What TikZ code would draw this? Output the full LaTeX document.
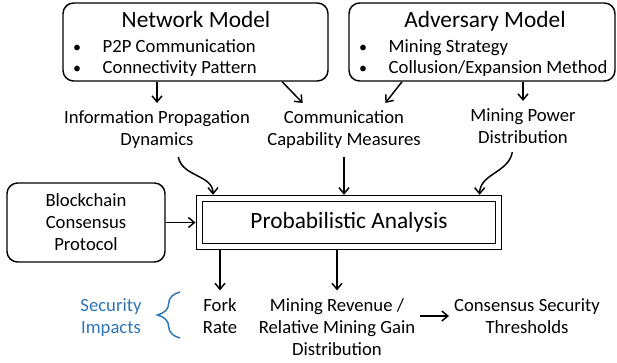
\documentclass[tikz,border=0pt]{standalone}
\usepackage{fontspec}
\setmainfont{Carlito}
\usetikzlibrary{arrows.meta,decorations.pathreplacing}
\definecolor{impactblue}{RGB}{46,117,182}

\tikzset{
  >={Straight Barb[length=4.5pt,width=7.5pt]},
  every path/.style={line width=1.1pt},
  modelbox/.style={draw, rounded corners=8pt, inner sep=0pt},
  txt/.style={align=center, inner ysep=5.5pt, font=\fontsize{14}{16.5}\selectfont},
  item/.style={anchor=base west, inner sep=0pt, font=\fontsize{14}{16.5}\selectfont},
  dot/.style={anchor=base, inner sep=0pt, font=\fontsize{12}{16.5}\selectfont},
  heading/.style={anchor=base, inner sep=0pt, font=\fontsize{17.5}{21}\selectfont},
}

\begin{document}
\begin{tikzpicture}[x=0.75pt, y=0.75pt]
        \useasboundingbox (0,0) rectangle (617,-362);

        \node[modelbox, minimum width=198.75pt, minimum height=58.5pt] at (195.5,-42) (net) {};
        \node[modelbox, minimum width=199.5pt, minimum height=58.5pt] at (482,-42) (adv) {};
        \node[heading] at (196,-27) (nettitle) {Network Model};
        \node[heading] at (485,-27) (advtitle) {Adversary Model};
        \node[dot] at (77,-52) (d1) {•};
        \node[dot] at (77,-73) (d2) {•};
        \node[dot] at (363,-52) (d3) {•};
        \node[dot] at (363,-73) (d4) {•};
        \node[item] at (102,-52) (p2p) {P2P Communication};
        \node[item] at (102,-73) (conn) {Connectivity Pattern};
        \node[item] at (388,-52) (strat) {Mining Strategy};
        \node[item] at (388,-73) (coll) {Collusion/Expansion Method};

        \node[txt] at (157,-130) (ipd) {Information Propagation\\Dynamics};
        \node[txt] at (344,-130) (ccm) {Communication\\Capability Measures};
        \node[txt] at (523,-126.5) (mpd) {Mining Power\\Distribution};

        \node[modelbox, txt, inner sep=0pt, minimum width=118.5pt, minimum height=59.25pt] at (86,-222.5) (bcp) {Blockchain\\Consensus\\Protocol};
        \node[draw, double, double distance=3.4pt, outer sep=2.8pt, minimum width=224.6pt, minimum height=36pt,
              font=\fontsize{17.5}{21}\selectfont] at (349,-222.5) (pa) {Probabilistic Analysis};

        \node[txt, text=impactblue] at (111,-318) (si) {Security\\Impacts};
        \node[txt] at (220,-316) (fr) {Fork\\Rate};
        \node[txt] at (337,-327) (mr) {Mining Revenue /\\Relative Mining Gain\\Distribution};
        \node[txt] at (527,-316) (cst) {Consensus Security\\Thresholds};
        \coordinate (bt) at (180,-292);
        \coordinate (bb) at (180,-338);

        \draw[->] (net.south -| ipd.north) -- (ipd.north);
        \draw[->] ([xshift=65pt]net.south) -- ([xshift=-31pt]ccm.north);
        \draw[->] ([xshift=-60pt]adv.south) -- ([xshift=31pt]ccm.north);
        \draw[->] (adv.south -| mpd.north) -- (mpd.north);
        \draw[->] ([xshift=16pt]ipd.south) to[out=-80, in=90] ([xshift=-102pt]pa.north);
        \draw[->] (ccm.south) -- (ccm.south |- pa.north);
        \draw[->] ([xshift=-8pt]mpd.south) to[out=-100, in=90] ([xshift=98pt]pa.north);
        \draw[->] (bcp.east) -- (pa.west);
        \draw[->] (pa.south -| fr.north) -- (fr.north);
        \draw[->] (pa.south -| mr.north) -- (mr.north);
        \draw[->] (mr.east |- cst.west) -- (cst.west);
        \draw[impactblue, decorate, decoration={brace, amplitude=17pt}] (bb) -- (bt);
    \end{tikzpicture}
\end{document}
